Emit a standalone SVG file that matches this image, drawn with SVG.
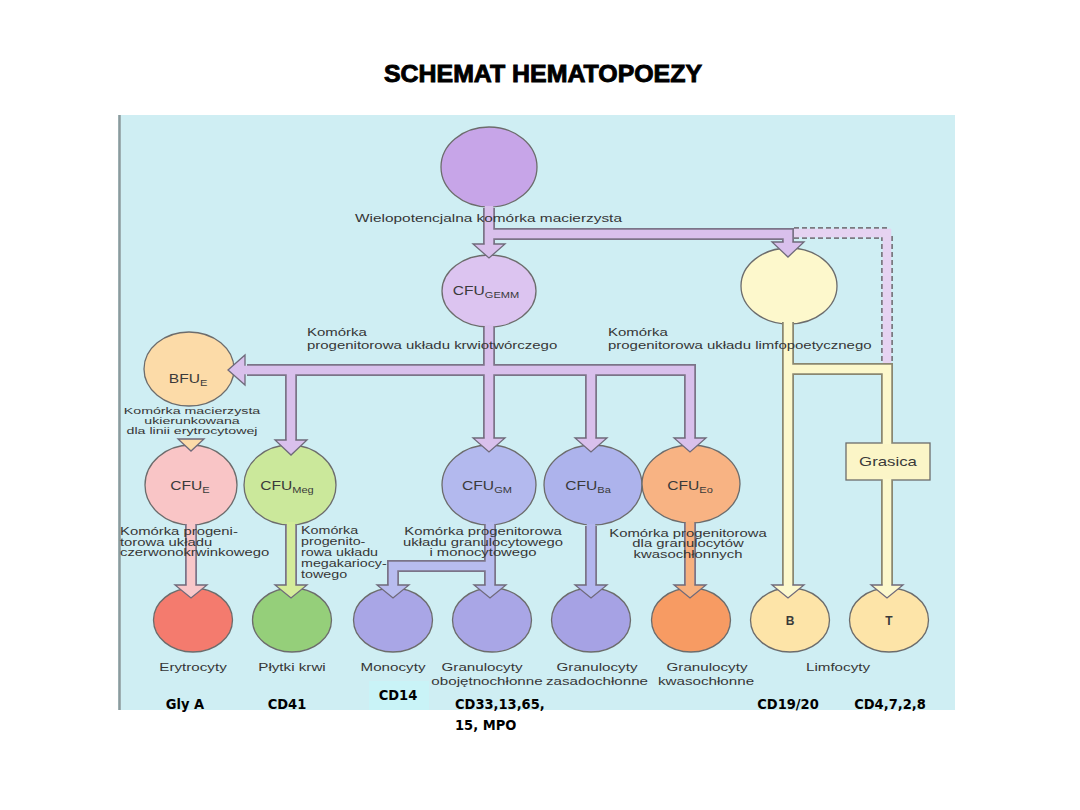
<svg xmlns="http://www.w3.org/2000/svg" width="1080" height="810" viewBox="0 0 1080 810">
<style>
.n{stroke:#6c6c6c;stroke-width:1.3}
.t{font-family:"Liberation Sans",Arial,sans-serif;font-size:11px;fill:#363636}
.s{font-size:9.6px}
.c{font-family:"Liberation Sans",Arial,sans-serif;font-size:12px;fill:#3a3a3a}
.tag{font-family:"DejaVu Sans Condensed","DejaVu Sans",sans-serif;font-weight:bold;font-size:14.5px;fill:#000}
.ol{fill:none;stroke:#7b7488;stroke-width:12;stroke-linejoin:miter}
.oly{fill:none;stroke:#8a8770;stroke-width:12;stroke-linejoin:miter}
.h{stroke:#6f6a7a;stroke-width:1.3;stroke-linejoin:miter}
.f{fill:none;stroke-width:8.5;stroke-linejoin:miter}
.m{text-anchor:middle}
</style>
<rect x="0" y="0" width="1080" height="810" fill="#ffffff"/>
<rect x="118" y="115" width="837" height="595" fill="#cfeef3"/>
<line x1="119.5" y1="115" x2="119.5" y2="710" stroke="#8c9a9c" stroke-width="2.5"/>
<text x="543" y="82" font-family="Liberation Sans,Arial,sans-serif" font-weight="bold" font-size="24" text-anchor="middle" textLength="318" lengthAdjust="spacingAndGlyphs" stroke="#000" stroke-width="0.9" fill="#000">SCHEMAT HEMATOPOEZY</text>

<g id="node-stem"><ellipse class="n" cx="489" cy="167" rx="48" ry="40" fill="#c7a5e8"/></g>
<g id="node-gemm"><ellipse class="n" cx="489" cy="291" rx="47" ry="36" fill="#dcc4f0"/>
<text class="c m" transform="translate(486 295) scale(1.3 1)">CFU<tspan font-size="8.5" dy="3">GEMM</tspan></text></g>
<g id="node-lymph"><ellipse class="n" cx="789" cy="286" rx="48" ry="38" fill="#fdf8cc"/></g>
<g id="node-bfue"><ellipse class="n" cx="189" cy="369" rx="45" ry="37" fill="#fcdba8"/>
<text class="c m" transform="translate(188 383) scale(1.3 1)">BFU<tspan font-size="8.5" dy="3">E</tspan></text></g>
<g id="node-cfue"><ellipse class="n" cx="191" cy="485" rx="46" ry="40" fill="#f9c5c6"/>
<text class="c m" transform="translate(190 490) scale(1.3 1)">CFU<tspan font-size="8.5" dy="3">E</tspan></text></g>
<g id="node-cfumeg"><ellipse class="n" cx="290" cy="485" rx="46" ry="40" fill="#cbe89b"/>
<text class="c m" transform="translate(287 490) scale(1.3 1)">CFU<tspan font-size="8.5" dy="3">Meg</tspan></text></g>
<g id="node-cfugm"><ellipse class="n" cx="489" cy="485" rx="47" ry="40" fill="#b3b9ee"/>
<text class="c m" transform="translate(487 490) scale(1.3 1)">CFU<tspan font-size="8.5" dy="3">GM</tspan></text></g>
<g id="node-cfuba"><ellipse class="n" cx="593" cy="485" rx="49" ry="40" fill="#adb3ec"/>
<text class="c m" transform="translate(588 490) scale(1.3 1)">CFU<tspan font-size="8.5" dy="3">Ba</tspan></text></g>
<g id="node-cfueo"><ellipse class="n" cx="691" cy="484" rx="49" ry="39" fill="#f8b383"/>
<text class="c m" transform="translate(690 490) scale(1.3 1)">CFU<tspan font-size="8.5" dy="3">Eo</tspan></text></g>
<g id="node-grasica"><rect class="n" x="846" y="443" width="84" height="37" fill="#fbf5c7"/>
<text class="c m" transform="translate(888 466) scale(1.4 1)">Grasica</text></g>
<g id="node-ery"><ellipse class="n" cx="193" cy="620" rx="39.5" ry="32" fill="#f47b6e"/></g>
<g id="node-plt"><ellipse class="n" cx="292" cy="620" rx="39.5" ry="32" fill="#95cf7a"/></g>
<g id="node-mono"><ellipse class="n" cx="393" cy="620" rx="39.5" ry="32" fill="#a9a6e6"/></g>
<g id="node-neu"><ellipse class="n" cx="492" cy="620" rx="39.5" ry="32" fill="#a9a6e6"/></g>
<g id="node-baso"><ellipse class="n" cx="591" cy="620" rx="39.5" ry="32" fill="#a6a2e4"/></g>
<g id="node-eos"><ellipse class="n" cx="691" cy="620" rx="39.5" ry="32" fill="#f79b63"/></g>
<g id="node-b"><ellipse class="n" cx="790" cy="620" rx="39.5" ry="32" fill="#fde4a8"/>
<text class="c m" font-weight="bold" x="790" y="625" fill="#6a6a6a">B</text></g>
<g id="node-t"><ellipse class="n" cx="889" cy="620" rx="39.5" ry="32" fill="#fde4a8"/>
<text class="c m" font-weight="bold" x="889" y="625" fill="#6a6a6a">T</text></g>

<g id="connectors">
  <path d="M794,233 H887 V365" fill="none" stroke="#7a7a80" stroke-width="12" stroke-dasharray="5 3"/>
  <path d="M794,233 H887 V365" fill="none" stroke="#e6d3f1" stroke-width="8.5"/>
  <path class="ol" d="M489,208 V246 M489,234 H788 V244 M489,327 V440 M247,370 H690 V440 M591,370 V440 M291,370 V442"/>
  <path class="ol" d="M191,524 V587 M291,524 V587 M490,524 V587 M490,566 H393 V587 M591,526 V587 M690,523 V587"/>
  <path class="oly" d="M788,322 V587 M788,369 H887 V443 M887,480 V587"/>
  <g fill="#d9c0ec">
    <polygon class="h" points="473,244 505,244 489,258"/>
    <polygon class="h" points="772,242 804,242 788,257"/>
    <polygon class="h" points="473,438 505,438 489,452"/>
    <polygon class="h" points="674,438 706,438 690,452"/>
    <polygon class="h" points="575,438 607,438 591,452"/>
    <polygon class="h" points="275,440 307,440 291,455"/>
    <polygon class="h" points="245,355 245,385 228,370"/>
  </g>
  <polygon class="h" points="178,439 204,439 191,451" fill="#fcdba8"/>
  <polygon class="h" points="175,585 207,585 191,598" fill="#f8c7c9"/>
  <polygon class="h" points="275,585 307,585 291,598" fill="#d4ec9a"/>
  <polygon class="h" points="377,585 409,585 393,598" fill="#b8bcef"/>
  <polygon class="h" points="474,585 506,585 490,598" fill="#b8bcef"/>
  <polygon class="h" points="575,585 607,585 591,598" fill="#b3b6ee"/>
  <polygon class="h" points="674,585 706,585 690,598" fill="#f7b07e"/>
  <polygon class="h" points="772,585 804,585 788,598" fill="#fcf8cc"/>
  <polygon class="h" points="871,585 903,585 887,598" fill="#fcf8cc"/>
  <path class="f" stroke="#d9c0ec" d="M489,206 V247 M489,234 H788 V245 M489,325 V441 M243,370 H690 V441 M591,370 V441 M291,370 V443"/>
  <path class="f" stroke="#f8c7c9" d="M191,522 V588"/>
  <path class="f" stroke="#d4ec9a" d="M291,522 V588"/>
  <path class="f" stroke="#b8bcef" d="M490,522 V588 M490,566 H393 V588"/>
  <path class="f" stroke="#b3b6ee" d="M591,524 V588"/>
  <path class="f" stroke="#f7b07e" d="M690,521 V588"/>
  <path class="f" stroke="#fcf8cc" d="M788,320 V588 M788,369 H887 V444 M887,479 V588"/>
</g>

<g id="captions">
  <text class="t m" transform="translate(488.5 222) scale(1.4 1)">Wielopotencjalna komórka macierzysta</text>
  <text class="t" transform="translate(307 336) scale(1.36 1)">Komórka</text>
  <text class="t" transform="translate(307 349) scale(1.36 1)">progenitorowa układu krwiotwórczego</text>
  <text class="t" transform="translate(608 336) scale(1.36 1)">Komórka</text>
  <text class="t" transform="translate(608 349) scale(1.36 1)">progenitorowa układu limfopoetycznego</text>
  <g class="t s m">
    <text transform="translate(192 413.5) scale(1.48 1)">Komórka macierzysta</text>
    <text transform="translate(192 423.5) scale(1.48 1)">ukierunkowana</text>
    <text transform="translate(192 433.5) scale(1.48 1)">dla linii erytrocytowej</text>
  </g>
  <g class="t">
    <text transform="translate(120 535) scale(1.35 1)">Komórka progeni-</text>
    <text transform="translate(120 545.5) scale(1.35 1)">torowa układu</text>
    <text transform="translate(120 556) scale(1.35 1)">czerwonokrwinkowego</text>
  </g>
  <g class="t">
    <text transform="translate(301 534) scale(1.3 1)">Komórka</text>
    <text transform="translate(301 545) scale(1.3 1)">progenito-</text>
    <text transform="translate(301 556) scale(1.3 1)">rowa układu</text>
    <text transform="translate(301 567) scale(1.3 1)">megakariocy-</text>
    <text transform="translate(301 578) scale(1.3 1)">towego</text>
  </g>
  <g class="t m">
    <text transform="translate(483 535) scale(1.35 1)">Komórka progenitorowa</text>
    <text transform="translate(483 545.5) scale(1.35 1)">układu granulocytowego</text>
    <text transform="translate(483 556) scale(1.35 1)">i monocytowego</text>
  </g>
  <g class="t m">
    <text transform="translate(688 536.5) scale(1.35 1)">Komórka progenitorowa</text>
    <text transform="translate(688 547) scale(1.35 1)">dla granulocytów</text>
    <text transform="translate(688 557.5) scale(1.35 1)">kwasochłonnych</text>
  </g>
  <g class="t m">
    <text transform="translate(193 671) scale(1.38 1)">Erytrocyty</text>
    <text transform="translate(292 671) scale(1.38 1)">Płytki krwi</text>
    <text transform="translate(393 671) scale(1.38 1)">Monocyty</text>
    <text transform="translate(482 671) scale(1.38 1)">Granulocyty</text>
    <text transform="translate(487 685) scale(1.38 1)">obojętnochłonne</text>
    <text transform="translate(597 671) scale(1.38 1)">Granulocyty</text>
    <text transform="translate(597 685) scale(1.38 1)">zasadochłonne</text>
    <text transform="translate(707 671) scale(1.38 1)">Granulocyty</text>
    <text transform="translate(706 685) scale(1.38 1)">kwasochłonne</text>
    <text transform="translate(838 671) scale(1.38 1)">Limfocyty</text>
  </g>
</g>

<g id="markers">
  <rect x="369" y="681" width="60" height="29" fill="#c9f3f7"/>
  <text class="tag m" x="185" y="709">Gly A</text>
  <text class="tag m" x="287" y="709">CD41</text>
  <text class="tag m" x="398" y="700">CD14</text>
  <text class="tag" x="455" y="709">CD33,13,65,</text>
  <text class="tag" x="455" y="730">15, MPO</text>
  <text class="tag m" x="788" y="709">CD19/20</text>
  <text class="tag m" x="890" y="709">CD4,7,2,8</text>
</g>
</svg>
